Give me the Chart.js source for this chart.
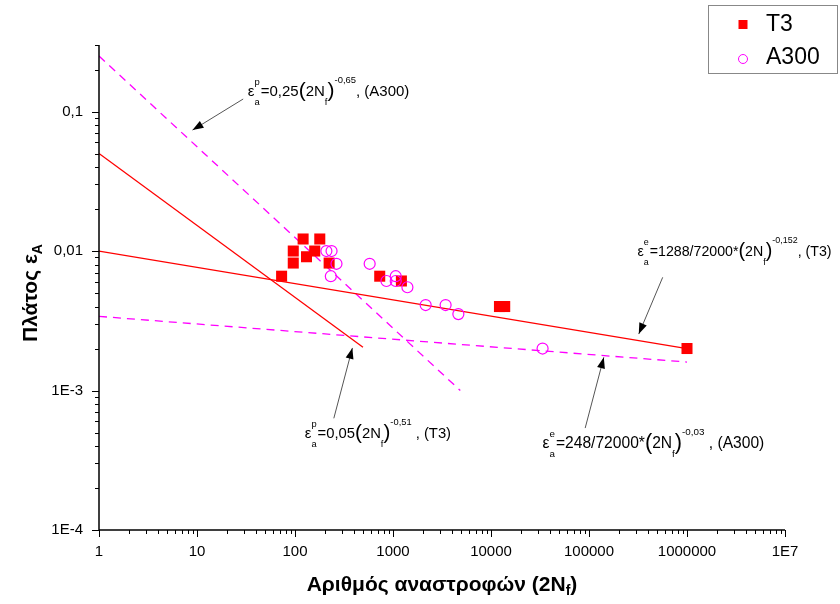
<!DOCTYPE html>
<html>
<head>
<meta charset="utf-8">
<script src="https://cdn.jsdelivr.net/npm/chart.js@4/dist/chart.umd.min.js"></script>
<style>
  body { margin: 0; background: #fff; }
  #wrap { width: 840px; height: 604px; }
</style>
</head>
<body>
<div id="wrap"><canvas id="myChart" width="840" height="604"></canvas></div>
<script>
// measured points (2Nf, strain amplitude)
const t3N = [73, 96, 96, 121, 131, 159, 179, 223, 732, 1218, 12200, 13800, 1000000]
const t3Amp = [0.0066, 0.0082, 0.0100, 0.0122, 0.0091, 0.0100, 0.0122, 0.0082, 0.0066, 0.0061, 0.0040, 0.0040, 0.0020]
const a300N = [209, 236, 265, 232, 578, 1066, 857, 1066, 1403, 2154, 3442, 4644, 33600]
const a300Amp = [0.0100, 0.0100, 0.0081, 0.0066, 0.0081, 0.0066, 0.0061, 0.0061, 0.0055, 0.0041, 0.0041, 0.00353, 0.0020]

// fitted lines (end points)
const t3ElN = [1, 1000000]
const t3ElAmp = [0.0100, 0.0020]
const t3PlN = [1, 494]
const t3PlAmp = [0.050, 0.00204]
const a300PlN = [1, 4860]
const a300PlAmp = [0.25, 0.001]
const a300ElN = [1, 1000000]
const a300ElAmp = [0.0034, 0.0016]

const xMajor = [1, 10, 100, 1000, 10000, 100000, 1000000, 10000000]
const xLabels = ["1", "10", "100", "1000", "10000", "100000", "1000000", "1E7"]
const yMajor = [0.0001, 0.001, 0.01, 0.1]
const yLabels = ["1E-4", "1E-3", "0,01", "0,1"]

// annotations: text anchor, arrow tail, arrow tip (data coords)
const notes = [
  {sym: "p", coef: "=0,25", exp: "-0,65", tail: ", (A300)", size: 15, at: [33, 0.129], from: [29.6, 0.123], to: [9.0, 0.0736]},
  {sym: "e", coef: "=1288/72000*", exp: "-0,152", tail: ", (T3)", size: 14.2, at: [312000, 0.0092], from: [565000, 0.00648], to: [322000, 0.00254]},
  {sym: "p", coef: "=0,05", exp: "-0,51", tail: " , (T3)", size: 14.8, at: [126, 0.000456], from: [249, 0.000632], to: [385, 0.00202]},
  {sym: "e", coef: "=248/72000*", exp: "-0,03", tail: " , (A300)", size: 15.6, at: [33600, 0.000387], from: [91400, 0.000538], to: [141600, 0.00173]}
]

const RED = "#ff0000"
const MAG = "#ff00ff"
const FONT = "'Liberation Sans', Arial, sans-serif"

function pts(xs, ys) { return xs.map((v, i) => ({x: v, y: ys[i]})) }

function logTicks(lo, hi) {
  let t = []
  for (let e = lo; e <= hi; e++) {
    for (let m = 1; m <= 9; m++) t.push(m * Math.pow(10, e))
  }
  return t
}
function isMajor(v, list) { return list.some(m => Math.abs(v / m - 1) < 1e-6) }

function drawEq(ctx, x, y, n) {
  ctx.fillStyle = "#000"
  ctx.textBaseline = "alphabetic"
  ctx.textAlign = "left"
  let s = n.size
  let big = s + "px " + FONT, small = (s * 0.63) + "px " + FONT, par = (s * 1.4) + "px " + FONT
  ctx.font = big
  ctx.fillText("ε", x, y)
  let cx = x + ctx.measureText("ε").width
  ctx.font = small
  ctx.fillText(n.sym, cx, y - 11)
  ctx.fillText("a", cx, y + 9)
  cx += ctx.measureText("a").width + 1
  ctx.font = big
  ctx.fillText(n.coef, cx, y)
  cx += ctx.measureText(n.coef).width
  ctx.font = par
  ctx.fillText("(", cx, y + 1)
  cx += ctx.measureText("(").width
  ctx.font = big
  ctx.fillText("2N", cx, y)
  cx += ctx.measureText("2N").width
  ctx.font = small
  ctx.fillText("f", cx, y + 9)
  cx += ctx.measureText("f").width
  ctx.font = par
  ctx.fillText(")", cx, y + 1)
  cx += ctx.measureText(")").width
  ctx.font = small
  ctx.fillText(n.exp, cx, y - 13)
  cx += ctx.measureText(n.exp).width
  ctx.font = big
  ctx.fillText(n.tail, cx, y)
}

function drawArrow(ctx, x1, y1, x2, y2) {
  ctx.strokeStyle = "#555"
  ctx.lineWidth = 1
  ctx.beginPath()
  ctx.moveTo(x1, y1)
  ctx.lineTo(x2, y2)
  ctx.stroke()
  let a = Math.atan2(y2 - y1, x2 - x1)
  let L = 11, W = 4
  ctx.fillStyle = "#000"
  ctx.beginPath()
  ctx.moveTo(x2, y2)
  ctx.lineTo(x2 - L * Math.cos(a) + W * Math.sin(a), y2 - L * Math.sin(a) - W * Math.cos(a))
  ctx.lineTo(x2 - L * Math.cos(a) - W * Math.sin(a), y2 - L * Math.sin(a) + W * Math.cos(a))
  ctx.closePath()
  ctx.fill()
}

const extras = {
  id: "extras",
  afterDraw(chart) {
    let ctx = chart.ctx
    let xs = chart.scales.x, ys = chart.scales.y
    let area = chart.chartArea
    ctx.save()
    // axes
    ctx.strokeStyle = "#000"
    ctx.lineWidth = 1.5
    ctx.beginPath()
    ctx.moveTo(area.left, area.top)
    ctx.lineTo(area.left, area.bottom)
    ctx.lineTo(area.right, area.bottom)
    ctx.stroke()
    ctx.lineWidth = 1
    ctx.beginPath()
    xs.ticks.forEach(t => {
      let px = Math.round(xs.getPixelForValue(t.value)) + 0.5
      let len = isMajor(t.value, xMajor) ? 7 : 4
      ctx.moveTo(px, area.bottom)
      ctx.lineTo(px, area.bottom + len)
    })
    ys.ticks.forEach(t => {
      let py = Math.round(ys.getPixelForValue(t.value)) + 0.5
      let len = isMajor(t.value, yMajor) ? 7 : 4
      ctx.moveTo(area.left, py)
      ctx.lineTo(area.left - len, py)
    })
    ctx.stroke()

    // annotations
    notes.forEach(n => {
      drawEq(ctx, xs.getPixelForValue(n.at[0]), ys.getPixelForValue(n.at[1]), n)
      drawArrow(ctx, xs.getPixelForValue(n.from[0]), ys.getPixelForValue(n.from[1]),
        xs.getPixelForValue(n.to[0]), ys.getPixelForValue(n.to[1]))
    })

    // axis titles
    ctx.fillStyle = "#000"
    ctx.textBaseline = "alphabetic"
    ctx.textAlign = "left"
    let tf = "bold 21px " + FONT, sf = "bold 14px " + FONT
    ctx.font = tf
    let a1 = "Αριθμός αναστροφών (2N"
    let w1 = ctx.measureText(a1).width
    ctx.font = sf
    let w2 = ctx.measureText("f").width
    ctx.font = tf
    let w3 = ctx.measureText(")").width
    let x0 = 442 - (w1 + w2 + w3) / 2, by = 591
    ctx.fillText(a1, x0, by)
    ctx.font = sf
    ctx.fillText("f", x0 + w1, by + 4)
    ctx.font = tf
    ctx.fillText(")", x0 + w1 + w2, by)

    ctx.save()
    ctx.translate(37, 293)
    ctx.rotate(-Math.PI / 2)
    let b1 = "Πλάτος ε"
    let wb = ctx.measureText(b1).width
    ctx.font = sf
    let wa = ctx.measureText("A").width
    ctx.font = tf
    ctx.fillText(b1, -(wb + wa) / 2, 0)
    ctx.font = sf
    ctx.fillText("A", -(wb + wa) / 2 + wb, 5)
    ctx.restore()

    // legend
    ctx.fillStyle = "#fff"
    ctx.fillRect(708, 5, 130, 68)
    ctx.strokeStyle = "#888"
    ctx.lineWidth = 1
    ctx.strokeRect(708.5, 5.5, 129, 68)
    ctx.fillStyle = RED
    ctx.fillRect(738.5, 20, 9, 9)
    ctx.strokeStyle = MAG
    ctx.beginPath()
    ctx.arc(743, 59, 4.5, 0, Math.PI * 2)
    ctx.stroke()
    ctx.fillStyle = "#000"
    ctx.font = "23px " + FONT
    ctx.textBaseline = "middle"
    ctx.fillText("T3", 766, 25)
    ctx.fillText("A300", 766, 58)
    ctx.restore()
  }
}

let ctx = document.getElementById("myChart").getContext("2d")
let myChart = new Chart(ctx, {
  type: "scatter",
  data: {
    datasets: [{
      label: "A300",
      data: pts(a300N, a300Amp),
      pointStyle: "circle",
      pointRadius: 5.5,
      pointBorderWidth: 1.2,
      borderColor: MAG,
      backgroundColor: "rgba(255,255,255,0)",
      showLine: false
    }, {
      label: "T3",
      data: pts(t3N, t3Amp),
      pointStyle: "rect",
      pointRadius: 7.8,
      borderWidth: 0,
      backgroundColor: RED,
      borderColor: RED,
      showLine: false
    }, {
      label: "t3el",
      data: pts(t3ElN, t3ElAmp),
      showLine: true, pointRadius: 0, borderColor: RED, borderWidth: 1.3
    }, {
      label: "t3pl",
      data: pts(t3PlN, t3PlAmp),
      showLine: true, pointRadius: 0, borderColor: RED, borderWidth: 1.3
    }, {
      label: "a300pl",
      data: pts(a300PlN, a300PlAmp),
      showLine: true, pointRadius: 0, borderColor: MAG, borderWidth: 1.3, borderDash: [8, 6]
    }, {
      label: "a300el",
      data: pts(a300ElN, a300ElAmp),
      showLine: true, pointRadius: 0, borderColor: MAG, borderWidth: 1.3, borderDash: [8, 6]
    }]
  },
  options: {
    responsive: false,
    animation: false,
    layout: {padding: {left: 0, top: 45, right: 55, bottom: 0}},
    plugins: {legend: {display: false}, tooltip: {enabled: false}},
    scales: {
      x: {
        type: "logarithmic",
        min: 1, max: 10000000,
        grid: {display: false, drawTicks: false},
        border: {display: false},
        afterBuildTicks: s => { s.ticks = logTicks(0, 6).concat([10000000]).map(v => ({value: v})) },
        afterFit: s => { s.height = 74 },
        ticks: {
          autoSkip: false, maxRotation: 0, padding: 13,
          color: "#000", font: {family: FONT, size: 15},
          callback: v => { let i = xMajor.findIndex(m => Math.abs(v / m - 1) < 1e-6); return i >= 0 ? xLabels[i] : "" }
        }
      },
      y: {
        type: "logarithmic",
        min: 0.0001, max: 0.3,
        grid: {display: false, drawTicks: false},
        border: {display: false},
        afterBuildTicks: s => { s.ticks = logTicks(-4, -1).filter(v => v <= 0.3 + 1e-9).map(v => ({value: v})) },
        afterFit: s => { s.width = 99 },
        ticks: {
          autoSkip: false, padding: 16,
          color: "#000", font: {family: FONT, size: 15},
          callback: v => { let i = yMajor.findIndex(m => Math.abs(v / m - 1) < 1e-6); return i >= 0 ? yLabels[i] : "" }
        }
      }
    }
  },
  plugins: [extras]
})
</script>
</body>
</html>
